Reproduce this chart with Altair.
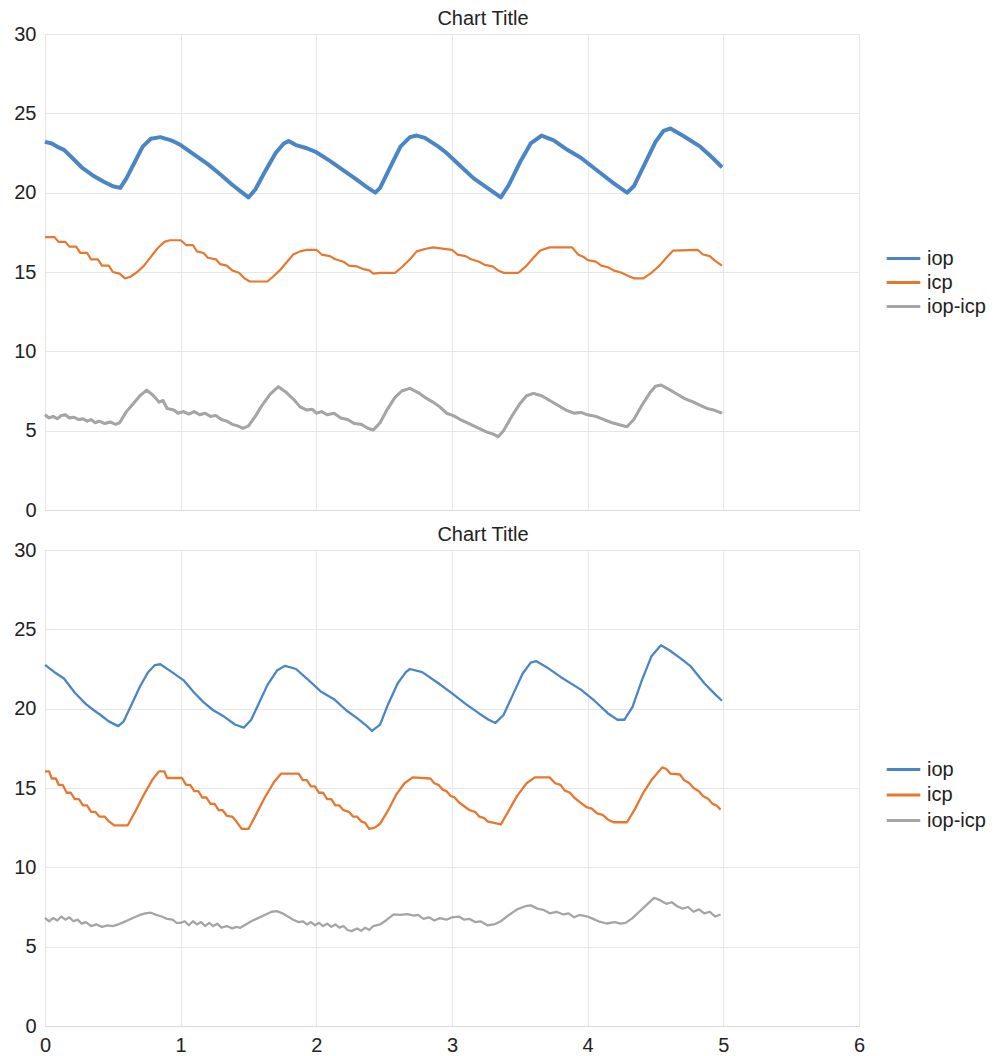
import altair as alt
import pandas as pd

SERIES = ["iop", "icp", "iop-icp"]
COLORS = ["#4a86c6", "#e6782f", "#a5a5a5"]
FONT = "Liberation Sans"
X_TICKS = [0, 1, 2, 3, 4, 5, 6]
Y_TICKS = [0, 5, 10, 15, 20, 25, 30]

# ---------------- top panel ----------------
top_iop_x = [0, 0.05, 0.1, 0.14, 0.2, 0.27, 0.35, 0.43, 0.5, 0.555, 0.6, 0.66, 0.72, 0.78, 0.85, 0.93, 1.0, 1.1, 1.2, 1.3,
             1.38, 1.44, 1.5, 1.55, 1.62, 1.7, 1.76, 1.795, 1.85, 1.93, 2.0, 2.1, 2.2, 2.3, 2.38, 2.435, 2.47, 2.55, 2.62,
             2.69, 2.74, 2.8, 2.9, 2.96, 3.06, 3.16, 3.26, 3.36, 3.42, 3.5, 3.58, 3.66, 3.75, 3.85, 3.95, 4.07, 4.19, 4.29,
             4.34, 4.42, 4.5, 4.56, 4.61, 4.7, 4.83, 4.92, 4.99]
top_iop_y = [23.2, 23.1, 22.85, 22.7, 22.2, 21.6, 21.1, 20.7, 20.4, 20.3, 20.9, 21.9, 22.9, 23.4, 23.5, 23.3, 23.0, 22.4, 21.8,
             21.1, 20.5, 20.1, 19.7, 20.2, 21.3, 22.5, 23.1, 23.25, 23.0, 22.8, 22.55, 22.0, 21.4, 20.8, 20.3, 20.0, 20.3,
             21.7, 22.9, 23.5, 23.6, 23.45, 22.9, 22.5, 21.7, 20.9, 20.3, 19.7, 20.5, 21.9, 23.1, 23.6, 23.3, 22.7, 22.2,
             21.4, 20.6, 20.0, 20.4, 21.8, 23.2, 23.9, 24.05, 23.6, 22.9, 22.2, 21.6]

top_icp_x = [0, 0.07, 0.1, 0.15, 0.18, 0.23, 0.26, 0.31, 0.34, 0.39, 0.42, 0.47, 0.5, 0.55, 0.59, 0.63, 0.68, 0.73, 0.78,
             0.83, 0.88, 0.92, 1.0, 1.04, 1.09, 1.12, 1.17, 1.2, 1.26, 1.29, 1.34, 1.38, 1.43, 1.47, 1.51, 1.64, 1.68, 1.73,
             1.78, 1.83, 1.88, 1.93, 2.0, 2.04, 2.1, 2.14, 2.2, 2.24, 2.3, 2.34, 2.39, 2.42, 2.47, 2.58, 2.63, 2.69, 2.74,
             2.8, 2.86, 3.0, 3.04, 3.1, 3.14, 3.2, 3.24, 3.3, 3.34, 3.38, 3.49, 3.55, 3.6, 3.65, 3.72, 3.885, 3.93, 3.97,
             4.0, 4.06, 4.1, 4.15, 4.19, 4.25, 4.3, 4.34, 4.41, 4.47, 4.53, 4.58, 4.63, 4.81, 4.85, 4.9, 4.94, 4.99]
top_icp_y = [17.2, 17.2, 16.9, 16.9, 16.6, 16.6, 16.2, 16.2, 15.8, 15.8, 15.4, 15.4, 15.0, 14.9, 14.6, 14.7, 15.0, 15.4, 15.95,
             16.5, 16.9, 17.0, 17.0, 16.7, 16.7, 16.3, 16.2, 15.9, 15.8, 15.5, 15.4, 15.1, 14.95, 14.6, 14.4, 14.4, 14.7,
             15.1, 15.6, 16.1, 16.3, 16.4, 16.4, 16.1, 16.0, 15.8, 15.65, 15.4, 15.35, 15.2, 15.1, 14.9, 14.95, 14.95, 15.3,
             15.8, 16.3, 16.45, 16.55, 16.4, 16.1, 16.0, 15.8, 15.65, 15.45, 15.35, 15.1, 14.95, 14.95, 15.4, 15.9, 16.35,
             16.55, 16.55, 16.1, 15.95, 15.75, 15.65, 15.4, 15.3, 15.1, 14.95, 14.75, 14.6, 14.6, 14.95, 15.4, 15.9, 16.35,
             16.4, 16.1, 16.0, 15.7, 15.4]

top_diff_x = [0, 0.03, 0.06, 0.09, 0.12, 0.15, 0.18, 0.21, 0.25, 0.28, 0.31, 0.34, 0.37, 0.4, 0.44, 0.48, 0.52, 0.55, 0.6,
              0.65, 0.7, 0.75, 0.8, 0.84, 0.87, 0.9, 0.95, 0.98, 1.02, 1.06, 1.1, 1.14, 1.18, 1.22, 1.26, 1.3, 1.34, 1.38,
              1.42, 1.46, 1.5, 1.55, 1.6, 1.66, 1.72, 1.78, 1.84, 1.88, 1.93, 1.97, 2.0, 2.04, 2.08, 2.13, 2.18, 2.23, 2.28,
              2.33, 2.38, 2.42, 2.47, 2.52, 2.58, 2.63, 2.69, 2.75, 2.8, 2.86, 2.91, 2.96, 3.01, 3.06, 3.11, 3.16, 3.21,
              3.26, 3.3, 3.34, 3.38, 3.44, 3.5, 3.55, 3.6, 3.66, 3.72, 3.78, 3.84, 3.9, 3.95, 4.0, 4.06, 4.12, 4.18, 4.24,
              4.29, 4.34, 4.4, 4.46, 4.5, 4.54, 4.6, 4.66, 4.72, 4.78, 4.83, 4.88, 4.93, 4.99]
top_diff_y = [6.0, 5.8, 5.9, 5.75, 5.95, 6.0, 5.8, 5.85, 5.7, 5.75, 5.6, 5.7, 5.5, 5.6, 5.45, 5.55, 5.4, 5.5, 6.2, 6.7, 7.2,
              7.56, 7.2, 6.8, 6.9, 6.4, 6.3, 6.1, 6.2, 6.05, 6.2, 6.0, 6.1, 5.9, 5.95, 5.7, 5.6, 5.4, 5.3, 5.15, 5.3, 5.9,
              6.6, 7.3, 7.77, 7.4, 6.9, 6.5, 6.3, 6.35, 6.1, 6.2, 6.0, 6.1, 5.8, 5.7, 5.45, 5.4, 5.15, 5.04, 5.5, 6.3, 7.1,
              7.5, 7.67, 7.4, 7.1, 6.8, 6.5, 6.1, 5.95, 5.7, 5.5, 5.3, 5.1, 4.9, 4.8, 4.62, 5.0, 5.9, 6.7, 7.2, 7.35, 7.2,
              6.9, 6.6, 6.3, 6.1, 6.15, 6.0, 5.9, 5.7, 5.5, 5.36, 5.25, 5.7, 6.6, 7.4, 7.8, 7.88, 7.6, 7.3, 7.0, 6.8, 6.6,
              6.4, 6.3, 6.1]

# ---------------- bottom panel ----------------
bot_iop_x = [0, 0.07, 0.14, 0.22, 0.3, 0.36, 0.41, 0.47, 0.54, 0.58, 0.64, 0.7, 0.76, 0.81, 0.85, 0.92, 1.02, 1.1, 1.17,
             1.24, 1.32, 1.4, 1.465, 1.52, 1.58, 1.64, 1.71, 1.77, 1.85, 1.93, 2.03, 2.13, 2.22, 2.3, 2.36, 2.41, 2.47,
             2.53, 2.6, 2.66, 2.69, 2.78, 2.9, 3.01, 3.1, 3.2, 3.27, 3.32, 3.38, 3.45, 3.52, 3.58, 3.62, 3.7, 3.8, 3.95,
             4.05, 4.15, 4.22, 4.27, 4.33, 4.4, 4.47, 4.54, 4.6, 4.68, 4.76, 4.86, 4.94, 4.99]
bot_iop_y = [22.76, 22.3, 21.9, 21.0, 20.3, 19.9, 19.6, 19.2, 18.9, 19.2, 20.3, 21.4, 22.3, 22.75, 22.8, 22.4, 21.8, 21.0,
             20.4, 19.9, 19.5, 19.0, 18.8, 19.3, 20.4, 21.5, 22.4, 22.7, 22.5, 21.9, 21.1, 20.6, 19.9, 19.4, 19.0, 18.6,
             19.0, 20.3, 21.6, 22.3, 22.5, 22.3, 21.6, 20.9, 20.3, 19.7, 19.3, 19.1, 19.6, 20.9, 22.2, 22.9, 23.0, 22.6,
             22.0, 21.2, 20.5, 19.7, 19.3, 19.3, 20.1, 21.8, 23.3, 24.0, 23.7, 23.2, 22.66, 21.6, 20.9, 20.5]

bot_icp_x = [0, 0.03, 0.05, 0.08, 0.1, 0.13, 0.16, 0.19, 0.22, 0.25, 0.28, 0.31, 0.34, 0.37, 0.4, 0.44, 0.47, 0.51, 0.61,
             0.67, 0.73, 0.79, 0.84, 0.88, 0.9, 1.01, 1.04, 1.07, 1.1, 1.13, 1.16, 1.19, 1.22, 1.25, 1.28, 1.31, 1.34, 1.38,
             1.41, 1.45, 1.5, 1.56, 1.62, 1.69, 1.74, 1.87, 1.9, 1.93, 1.96, 1.99, 2.02, 2.05, 2.08, 2.11, 2.14, 2.17, 2.2,
             2.24, 2.27, 2.3, 2.33, 2.36, 2.39, 2.43, 2.47, 2.53, 2.59, 2.65, 2.71, 2.84, 2.87, 2.9, 2.93, 2.96, 2.99, 3.02,
             3.05, 3.09, 3.13, 3.17, 3.2, 3.24, 3.26, 3.36, 3.42, 3.48, 3.55, 3.61, 3.72, 3.76, 3.8, 3.83, 3.87, 3.9, 3.95,
             3.99, 4.03, 4.07, 4.11, 4.15, 4.19, 4.29, 4.35, 4.41, 4.47, 4.55, 4.58, 4.61, 4.68, 4.71, 4.75, 4.78, 4.82,
             4.85, 4.89, 4.92, 4.95, 4.98]
bot_icp_y = [16.05, 16.05, 15.6, 15.6, 15.2, 15.2, 14.7, 14.7, 14.3, 14.3, 13.9, 13.9, 13.5, 13.5, 13.2, 13.2, 12.9, 12.65,
             12.65, 13.6, 14.6, 15.5, 16.05, 16.05, 15.63, 15.63, 15.2, 15.2, 14.8, 14.8, 14.4, 14.4, 14.0, 14.0, 13.6,
             13.6, 13.25, 13.2, 12.9, 12.42, 12.42, 13.4, 14.4, 15.4, 15.9, 15.9, 15.5, 15.5, 15.1, 15.1, 14.7, 14.7, 14.3,
             14.3, 13.9, 13.9, 13.6, 13.5, 13.2, 13.2, 12.9, 12.8, 12.42, 12.5, 12.75, 13.6, 14.6, 15.3, 15.67, 15.6, 15.3,
             15.2, 14.9, 14.8, 14.5, 14.4, 14.1, 13.85, 13.6, 13.5, 13.2, 13.1, 12.9, 12.7, 13.6, 14.5, 15.3, 15.67, 15.67,
             15.3, 15.2, 14.85, 14.7, 14.4, 14.06, 13.8, 13.7, 13.4, 13.3, 13.0, 12.84, 12.84, 13.7, 14.7, 15.5, 16.3, 16.2,
             15.9, 15.85, 15.5, 15.3, 15.0, 14.8, 14.5, 14.3, 14.0, 13.9, 13.64]

bot_diff_x = [0, 0.03, 0.06, 0.09, 0.12, 0.15, 0.18, 0.21, 0.24, 0.27, 0.3, 0.34, 0.38, 0.42, 0.46, 0.5, 0.54, 0.58, 0.62,
              0.66, 0.7, 0.74, 0.78, 0.82, 0.86, 0.9, 0.94, 0.97, 1.0, 1.03, 1.06, 1.09, 1.12, 1.15, 1.18, 1.21, 1.24, 1.27,
              1.3, 1.34, 1.38, 1.41, 1.44, 1.48, 1.52, 1.57, 1.62, 1.67, 1.71, 1.75, 1.79, 1.83, 1.87, 1.9, 1.93, 1.96,
              1.99, 2.02, 2.05, 2.08, 2.11, 2.14, 2.17, 2.2, 2.23, 2.26, 2.3, 2.33, 2.36, 2.39, 2.42, 2.47, 2.52, 2.57,
              2.62, 2.67, 2.72, 2.75, 2.79, 2.83, 2.87, 2.91, 2.96, 3.0, 3.05, 3.09, 3.13, 3.17, 3.21, 3.26, 3.31, 3.36,
              3.42, 3.48, 3.54, 3.58, 3.63, 3.68, 3.72, 3.77, 3.82, 3.86, 3.9, 3.94, 4.0, 4.04, 4.08, 4.14, 4.2, 4.24,
              4.28, 4.33, 4.38, 4.43, 4.49, 4.54, 4.58, 4.62, 4.66, 4.7, 4.74, 4.78, 4.82, 4.86, 4.9, 4.94, 4.98]
bot_diff_y = [6.82, 6.6, 6.8, 6.65, 6.9, 6.7, 6.85, 6.6, 6.7, 6.45, 6.55, 6.3, 6.4, 6.25, 6.34, 6.3, 6.4, 6.55, 6.7, 6.85,
              7.0, 7.1, 7.14, 7.0, 6.9, 6.75, 6.7, 6.5, 6.5, 6.6, 6.35, 6.6, 6.4, 6.55, 6.3, 6.5, 6.3, 6.45, 6.2, 6.3,
              6.15, 6.25, 6.19, 6.4, 6.6, 6.8, 7.0, 7.2, 7.24, 7.1, 6.9, 6.7, 6.55, 6.6, 6.4, 6.55, 6.35, 6.5, 6.3, 6.45,
              6.25, 6.4, 6.2, 6.3, 6.05, 5.98, 6.15, 6.0, 6.2, 6.05, 6.3, 6.4, 6.7, 7.03, 7.0, 7.05, 6.95, 7.0, 6.75, 6.85,
              6.65, 6.8, 6.7, 6.85, 6.9, 6.7, 6.75, 6.55, 6.6, 6.35, 6.4, 6.6, 7.0, 7.35, 7.55, 7.6, 7.4, 7.3, 7.1, 7.2,
              7.03, 7.1, 6.85, 7.0, 6.9, 6.75, 6.6, 6.46, 6.55, 6.45, 6.5, 6.8, 7.2, 7.6, 8.08, 7.9, 7.7, 7.8, 7.55, 7.4,
              7.5, 7.2, 7.35, 7.1, 7.2, 6.9, 7.03]


def frame(parts):
    rows = []
    for name, xs, ys in parts:
        for i, (x, y) in enumerate(zip(xs, ys)):
            rows.append({"series": name, "x": x, "y": y, "i": i})
    return pd.DataFrame(rows)


top_df = frame([("iop", top_iop_x, top_iop_y), ("icp", top_icp_x, top_icp_y), ("iop-icp", top_diff_x, top_diff_y)])
bot_df = frame([("iop", bot_iop_x, bot_iop_y), ("icp", bot_icp_x, bot_icp_y), ("iop-icp", bot_diff_x, bot_diff_y)])

X_ENC_SCALE = alt.Scale(domain=[0, 6], nice=False)
Y_ENC_SCALE = alt.Scale(domain=[0, 30], nice=False)


def panel(df, base_width, extra, show_x, legend_y, row_pad):
    x_axis = alt.Axis(values=X_TICKS, grid=True, gridColor="#e6e6e6", domain=True, domainColor="#d9d9d9",
                      ticks=False, labels=show_x, labelFontSize=20, labelFont=FONT, labelColor="#222",
                      labelPadding=9, labelFlush=False, title=None)
    y_axis = alt.Axis(values=Y_TICKS, grid=True, gridColor="#e6e6e6", domain=False, ticks=False,
                      labelFontSize=20, labelFont=FONT, labelColor="#222", labelPadding=9, title=None)
    legend = alt.Legend(
        title=None, orient="none", legendX=845, legendY=legend_y,
        symbolType="M-1.4,0L1.4,0", symbolSize=576, symbolStrokeWidth=3,
        labelFontSize=20, labelFont=FONT, labelColor="#222", labelOffset=10, rowPadding=row_pad,
    )
    base = alt.Chart(df).mark_line(strokeJoin="round", strokeWidth=base_width).encode(
        x=alt.X("x:Q", scale=X_ENC_SCALE, axis=x_axis),
        y=alt.Y("y:Q", scale=Y_ENC_SCALE, axis=y_axis),
        color=alt.Color("series:N", scale=alt.Scale(domain=SERIES, range=COLORS), legend=legend),
        order=alt.Order("i:Q"),
    )
    layers = [base]
    for name, color, w in extra:
        layers.append(
            alt.Chart(df).transform_filter(alt.datum.series == name)
            .mark_line(strokeJoin="round", strokeWidth=w, color=color)
            .encode(x=alt.X("x:Q", scale=X_ENC_SCALE, axis=x_axis),
                    y=alt.Y("y:Q", scale=Y_ENC_SCALE, axis=y_axis),
                    order=alt.Order("i:Q"))
        )
    return alt.layer(*layers).properties(
        width=814, height=476,
        title=alt.TitleParams("Chart Title", fontSize=20, font=FONT, fontWeight="normal", color="#222",
                              anchor="middle", dx=31, offset=-5),
    )


top = panel(top_df, 2.2, [("iop", COLORS[0], 4), ("iop-icp", COLORS[2], 3)], False, 211, 0)
bottom = panel(bot_df, 2.3, [], True, 206, 1.5)

chart = alt.vconcat(top, bottom, spacing=3).resolve_scale(
    color="independent"
).resolve_legend(color="independent").configure_view(stroke=None).configure(
    background="white", padding={"left": 5, "top": 0, "right": 0, "bottom": 0}
)

chart.save("out.html", embed_options={"renderer": "svg", "actions": False})
